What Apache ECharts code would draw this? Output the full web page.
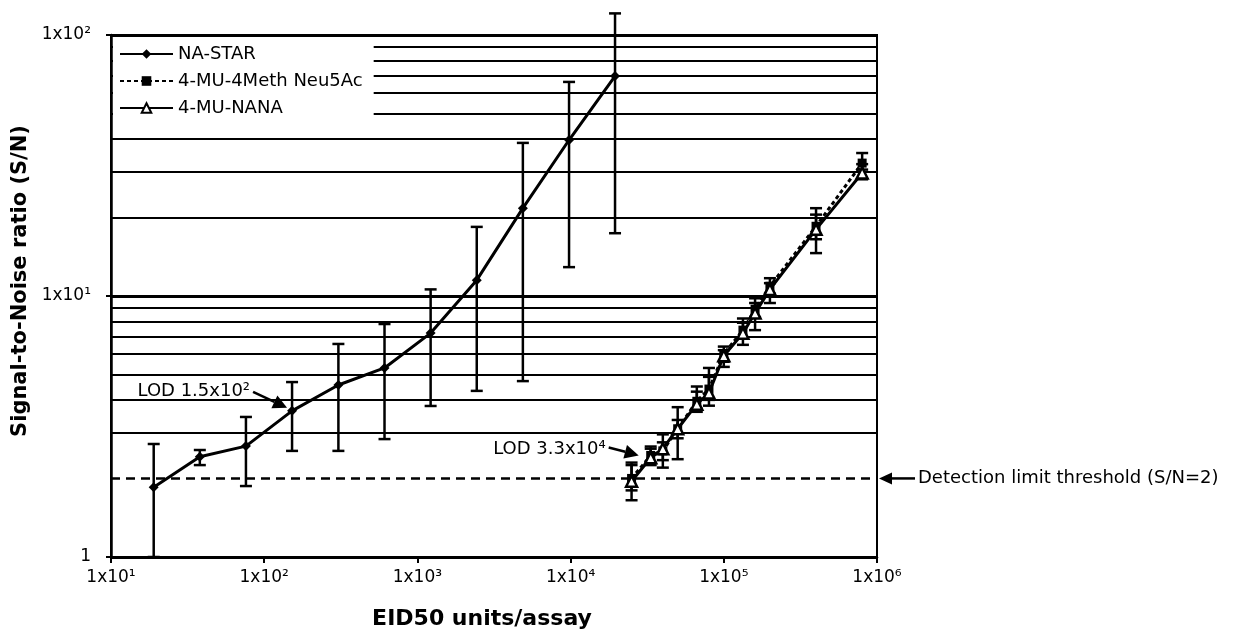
<!DOCTYPE html>
<html><head><meta charset="utf-8">
<script src="https://cdn.jsdelivr.net/npm/echarts@6/dist/echarts.min.js"></script>
<style>html,body{margin:0;padding:0;background:#fff}#c{width:1233px;height:631px}</style>
</head><body><div id="c"></div>
<script>
// ---- data ----
const naStarX = [19, 38, 76, 152, 305, 610, 1220, 2440, 4880, 9770, 19500];
const naStarY = [1.85, 2.42, 2.66, 3.63, 4.56, 5.30, 7.21, 11.5, 21.7, 39.6, 69.6];
const naStarLow = [1.0, 2.25, 1.87, 2.55, 2.55, 2.83, 3.79, 4.33, 4.72, 12.9, 17.4];
const naStarHigh = [2.71, 2.57, 3.44, 4.68, 6.55, 7.81, 10.6, 18.4, 38.6, 66.1, 121];

const muX = [25000, 33333, 40000, 50000, 66667, 80000, 100000, 133333, 160000, 200000, 400000, 800000];
const neu5AcY = [2.0, 2.45, 2.55, 3.1, 3.95, 4.4, 6.0, 7.4, 8.9, 10.9, 18.5, 32.3];
const neu5AcLow = [1.8, 2.3, 2.35, 2.85, 3.7, 4.0, 5.6, 6.9, 8.3, 10.2, 16.5, 30.5];
const neu5AcHigh = [2.25, 2.6, 2.75, 3.35, 4.5, 5.3, 6.4, 8.2, 9.8, 11.7, 21.7, 35.3];
const nanaY = [1.95, 2.4, 2.6, 3.1, 3.85, 4.25, 5.9, 7.2, 8.6, 10.6, 18.0, 29.6];
const nanaLow = [1.65, 2.25, 2.2, 2.37, 3.6, 3.8, 5.35, 6.5, 7.4, 9.4, 14.6, 28.0];
const nanaHigh = [2.3, 2.65, 2.95, 3.75, 4.3, 4.9, 6.2, 7.9, 9.4, 11.2, 20.5, 32.0];

const xTickLabels = ['1x10¹', '1x10²', '1x10³', '1x10⁴', '1x10⁵', '1x10⁶'];
const yTickLabels = ['1', '1x10¹', '1x10²'];
const minorGrid = [3, 4, 5, 6, 7, 8, 9, 20, 30, 40, 50, 60, 70, 80, 90];
const threshold = 2;
const seriesNames = ['NA-STAR', '4-MU-4Meth Neu5Ac', '4-MU-NANA'];
const lod1 = { x: 152, y: 3.63, text: 'LOD 1.5x10²' };
const lod2 = { x: 33333, y: 2.45, text: 'LOD 3.3x10⁴' };
const thresholdText = 'Detection limit threshold (S/N=2)';

// ---- chart ----
const FONT = 'DejaVu Sans';
const chart = echarts.init(document.getElementById('c'));

function errRender(params, api) {
  const x = api.value(0);
  const top = api.coord([x, api.value(2)]);
  const bot = api.coord([x, api.value(1)]);
  const hw = 6;
  const style = { stroke: '#000', lineWidth: 2.5 };
  return { type: 'group', children: [
    { type: 'line', shape: { x1: top[0], y1: top[1], x2: bot[0], y2: bot[1] }, style },
    { type: 'line', shape: { x1: top[0] - hw, y1: top[1], x2: top[0] + hw, y2: top[1] }, style },
    { type: 'line', shape: { x1: bot[0] - hw, y1: bot[1], x2: bot[0] + hw, y2: bot[1] }, style }
  ]};
}
const zip3 = (xs, lo, hi) => xs.map((x, i) => [x, lo[i], hi[i]]);
const zip2 = (xs, ys) => xs.map((x, i) => [x, ys[i]]);

const option = {
  animation: false,
  backgroundColor: '#fff',
  textStyle: { fontFamily: FONT, color: '#000' },
  grid: { left: 111, right: 356, top: 35, bottom: 74, containLabel: false, outerBoundsMode: 'none',
    show: true, borderColor: '#000', borderWidth: 2, backgroundColor: 'transparent' },
  legend: {
    data: seriesNames.map(n => ({ name: n })),
    orient: 'vertical', left: 113, top: 37,
    backgroundColor: '#fff',
    padding: [8, 11, 9, 6],
    itemWidth: 53, itemHeight: 12, itemGap: 9,
    textStyle: { fontFamily: FONT, fontSize: 18, color: '#000' }
  },
  xAxis: {
    type: 'log', logBase: 10, min: 10, max: 1e6,
    name: 'EID50 units/assay', nameLocation: 'middle', nameGap: 51,
    nameTextStyle: { fontFamily: FONT, fontSize: 22, fontWeight: 'bold', color: '#000', padding: [0, 24, 0, 0] },
    axisLine: { show: true, lineStyle: { color: '#000', width: 2.5 } },
    axisTick: { show: true, length: 6, lineStyle: { color: '#000', width: 2 } },
    axisLabel: { fontFamily: FONT, fontSize: 17, color: '#000', margin: 12,
      formatter: v => xTickLabels[Math.round(Math.log10(v)) - 1] },
    splitLine: { show: false }, minorTick: { show: false }
  },
  yAxis: {
    type: 'log', logBase: 10, min: 1, max: 100,
    name: 'Signal-to-Noise ratio (S/N)', nameLocation: 'middle', nameGap: 70,
    nameTextStyle: { fontFamily: FONT, fontSize: 21, fontWeight: 'bold', color: '#000', padding: [0, 0, 0, 30] },
    axisLine: { show: true, lineStyle: { color: '#000', width: 2.5 } },
    axisTick: { show: true, length: 5, lineStyle: { color: '#000', width: 2 } },
    axisLabel: { fontFamily: FONT, fontSize: 17, color: '#000', margin: 20,
      formatter: v => yTickLabels[Math.round(Math.log10(v))] },
    splitLine: { show: true, lineStyle: { color: '#000', width: 3 } }
  },
  series: [
    { type: 'custom', name: 'errNA', renderItem: errRender, clip: false, silent: true,
      encode: { x: 0, y: [1, 2] }, data: zip3(naStarX, naStarLow, naStarHigh), z: 3 },
    { type: 'custom', name: 'errNeu', renderItem: errRender, clip: false, silent: true,
      encode: { x: 0, y: [1, 2] }, data: zip3(muX, neu5AcLow, neu5AcHigh), z: 3 },
    { type: 'custom', name: 'errNANA', renderItem: errRender, clip: false, silent: true,
      encode: { x: 0, y: [1, 2] }, data: zip3(muX, nanaLow, nanaHigh), z: 3 },
    { type: 'line', name: seriesNames[0], data: zip2(naStarX, naStarY), z: 4,
      symbol: 'diamond', symbolSize: 10, showAllSymbol: true,
      lineStyle: { color: '#000', width: 3 }, itemStyle: { color: '#000' },
      markLine: { silent: true, symbol: ['none', 'none'], label: { show: false }, z: 1,
        lineStyle: { color: '#000', width: 2, type: 'solid' },
        data: minorGrid.map(v => ({ yAxis: v })).concat([{ yAxis: threshold, lineStyle: { type: [9, 6], width: 2.5 } }]) } },
    { type: 'line', name: seriesNames[1], data: zip2(muX, neu5AcY), z: 4,
      symbol: 'rect', symbolSize: 9, showAllSymbol: true,
      lineStyle: { color: '#000', width: 3, type: [4, 3] }, itemStyle: { color: '#000' } },
    { type: 'line', name: seriesNames[2], data: zip2(muX, nanaY), z: 5,
      symbol: 'triangle', symbolSize: 11, showAllSymbol: true,
      lineStyle: { color: '#000', width: 3 }, itemStyle: { color: '#fff', borderColor: '#000', borderWidth: 2.5 } }
  ]
};
chart.setOption(option);

function arrow(x1, y1, x2, y2, head, w) {
  const a = Math.atan2(y2 - y1, x2 - x1);
  const bx = x2 - head * Math.cos(a), by = y2 - head * Math.sin(a);
  const nx = -Math.sin(a) * w, ny = Math.cos(a) * w;
  return [
    { type: 'line', shape: { x1, y1, x2: bx, y2: by }, style: { stroke: '#000', lineWidth: 2.5 }, z: 10 },
    { type: 'polygon', shape: { points: [[x2, y2], [bx + nx, by + ny], [bx - nx, by - ny]] }, style: { fill: '#000' }, z: 10 }
  ];
}
const px = (x, y) => chart.convertToPixel({ gridIndex: 0 }, [x, y]);
const p1 = px(lod1.x, lod1.y);
const p2 = px(lod2.x, lod2.y);
const p3 = px(1e6, threshold);
const txt = (text, x, y, align) => ({ type: 'text', z: 10,
  style: { text, x, y, align, verticalAlign: 'middle', fontFamily: FONT, fontSize: 18, fill: '#000' } });
const g = [];
const t1 = [p1[0] - 5, p1[1] - 3];
g.push(...arrow(t1[0] - 34, t1[1] - 16, t1[0], t1[1], 14, 7));
g.push(txt(lod1.text, t1[0] - 37, t1[1] - 17, 'right'));
const t2 = [p2[0] - 12, p2[1]];
g.push(...arrow(t2[0] - 30, t2[1] - 8, t2[0], t2[1], 14, 7));
g.push(txt(lod2.text, t2[0] - 33, t2[1] - 6, 'right'));
const t3 = [p3[0] + 2, p3[1]];
g.push(...arrow(t3[0] + 36, t3[1], t3[0], t3[1], 13, 6));
g.push(txt(thresholdText, t3[0] + 39, t3[1], 'left'));
chart.setOption({ graphic: g });
</script>
</body></html>
